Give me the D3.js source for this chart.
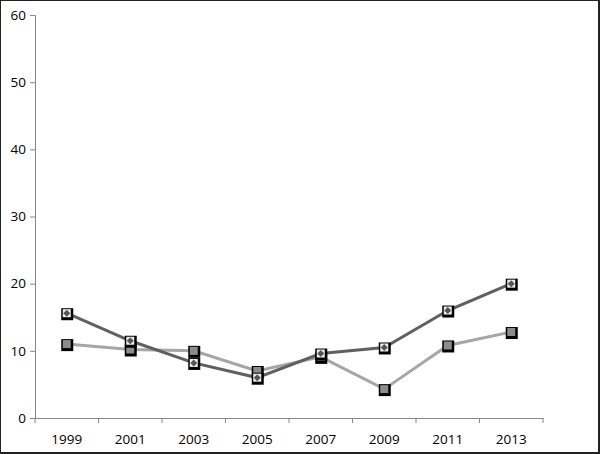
<!DOCTYPE html>
<html><head><meta charset="utf-8">
<script src="https://cdn.jsdelivr.net/npm/d3@7"></script>
<style>body{margin:0;background:#fff}svg{display:block}</style>
</head><body>
<svg id="c" width="600" height="454"></svg>
<script>
const years = ["1999","2001","2003","2005","2007","2009","2011","2013"];
const seriesDark = [15.6, 11.5, 8.2, 6.0, 9.6, 10.5, 16.0, 20.0];
const seriesLight = [11.0, 10.2, 10.0, 7.0, 9.1, 4.3, 10.8, 12.8];
const yTicks = [0, 10, 20, 30, 40, 50, 60];

const svg = d3.select("#c");
const W = 600, H = 454;
const m = {l: 35, r: 57, t: 15, b: 36};
svg.append("rect").attr("x",0.5).attr("y",0.5).attr("width",W-2).attr("height",H-2)
  .attr("fill","#fff").attr("stroke","#222").attr("stroke-width",1);
svg.append("line").attr("x1",W-1).attr("x2",W-1).attr("y1",0).attr("y2",H).attr("stroke","#222").attr("stroke-width",2);
svg.append("line").attr("x1",0).attr("x2",W).attr("y1",H-1).attr("y2",H-1).attr("stroke","#222").attr("stroke-width",2);

const x = d3.scaleBand().domain(years).range([m.l, W - m.r]);
const y = d3.scaleLinear().domain([0, 60]).range([H - m.b, m.t]);
const font = "'Open Sans', 'Liberation Sans', sans-serif";

const gy = svg.append("g").attr("transform", `translate(${m.l},0)`)
  .call(d3.axisLeft(y).tickValues(yTicks).tickSize(5).tickPadding(4));
const gx = svg.append("g").attr("transform", `translate(0,${H - m.b})`)
  .call(d3.axisBottom(x).tickSize(0).tickPadding(16));
gx.selectAll(".tick line").remove();
const edges = years.map(d => x(d)).concat([x(years[years.length-1]) + x.bandwidth()]);
gx.selectAll("line.edge").data(edges).enter().append("line").attr("class","edge")
  .attr("x1", d => d).attr("x2", d => d).attr("y1", 0).attr("y2", 5).attr("stroke", "#888");
[gx, gy].forEach(g => {
  g.select(".domain").attr("stroke", "#888");
  g.selectAll(".tick line").attr("stroke", "#888");
  g.selectAll("text").attr("fill", "#000").style("font-family", font).style("font-size", "13.5px");
});

const cx = d => x(d) + x.bandwidth() / 2;
const line = d3.line().x((d, i) => cx(years[i])).y(d => y(d));

svg.append("path").datum(seriesLight).attr("d", line).attr("fill", "none")
  .attr("stroke", "#a6a6a6").attr("stroke-width", 3);
svg.append("path").datum(seriesDark).attr("d", line).attr("fill", "none")
  .attr("stroke", "#606060").attr("stroke-width", 3);

const lm = svg.append("g");
seriesLight.forEach((v, i) => {
  const px = cx(years[i]), py = y(v);
  lm.append("rect").attr("x", px - 5.5).attr("y", py - 5).attr("width", 12).attr("height", 12).attr("fill", "#000");
  lm.append("rect").attr("x", px - 4).attr("y", py - 4).attr("width", 8).attr("height", 8).attr("fill", "#8c8c8c");
});
const dm = svg.append("g");
seriesDark.forEach((v, i) => {
  const px = cx(years[i]), py = y(v);
  dm.append("rect").attr("x", px - 5.5).attr("y", py - 5).attr("width", 12).attr("height", 12).attr("fill", "#000");
  dm.append("rect").attr("x", px - 4).attr("y", py - 4).attr("width", 8).attr("height", 8).attr("fill", "#eee");
  dm.append("path").attr("d", `M${px},${py-3.5}L${px+3.5},${py}L${px},${py+3.5}L${px-3.5},${py}Z`).attr("fill", "#555");
});
</script>
</body></html>
